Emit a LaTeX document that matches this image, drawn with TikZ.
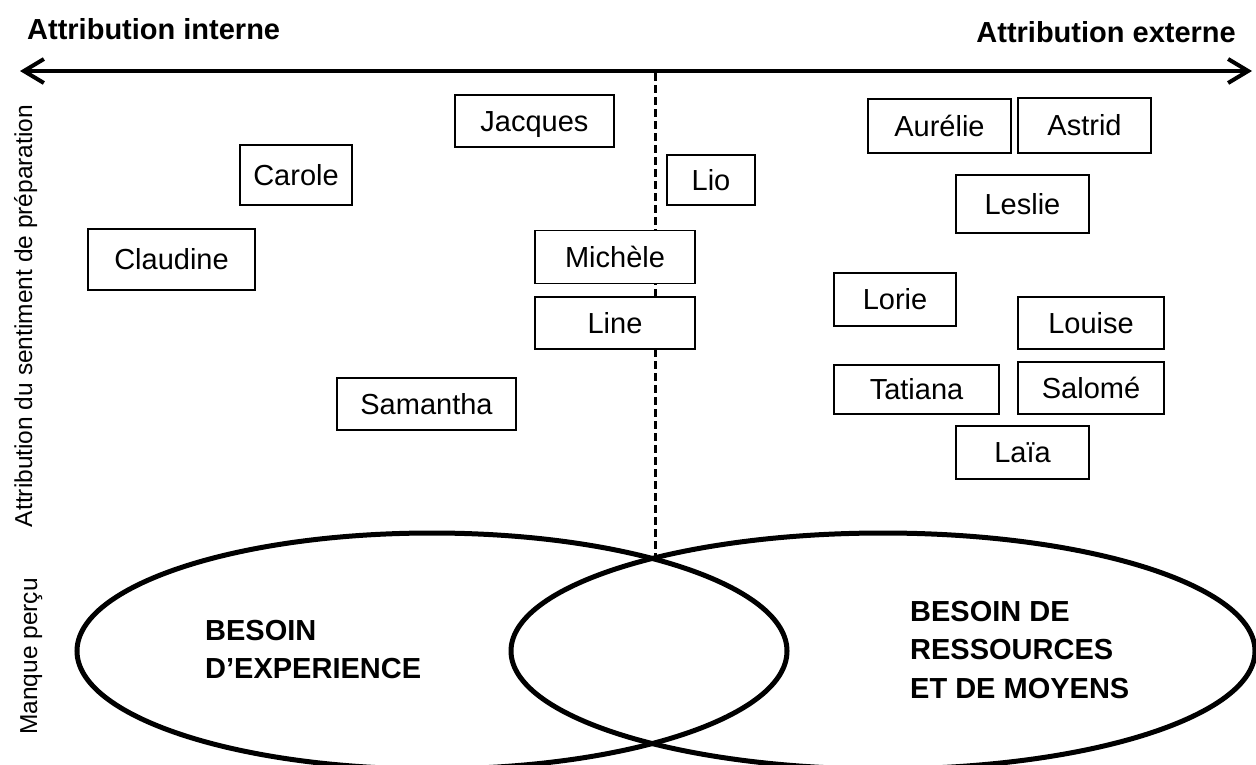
\documentclass[tikz,border=0pt]{standalone}
\usepackage{fontspec}
\setmainfont{Liberation Sans}
\usetikzlibrary{arrows.meta,shapes.geometric}

\newcommand{\nomfont}{\fontsize{29}{34}\selectfont}
\newcommand{\axefont}{\fontsize{24.5}{29}\selectfont}
\newcommand{\titrefont}{\fontsize{29}{38.5}\selectfont\bfseries}

\tikzset{
  nom/.style={rectangle, draw, fill=white, line width=1.3pt, font=\nomfont, inner sep=0pt, text height=20.8pt, text depth=0pt},
  zone/.style={ellipse, draw, line width=5pt, inner sep=0pt},
  besoin/.style={font=\titrefont, align=left, inner sep=0pt, anchor=west},
  axe/.style={font=\axefont, rotate=90, anchor=base, inner sep=0pt}
}

\begin{document}
\begin{tikzpicture}[x=1pt, y=-1pt]
\useasboundingbox (0,0) rectangle (1256,764);

% Axe
\coordinate (gauche) at (20,71);
\coordinate (droite) at (1252,71);
\draw[line width=4pt, {Straight Barb[length=20pt, width=24pt]}-{Straight Barb[length=20pt, width=24pt]}] (gauche) -- (droite);
\node[font=\titrefont, anchor=base west, inner sep=0pt] (interne) at (27,39) {Attribution interne};
\node[font=\titrefont, anchor=base east, inner sep=0pt] (externe) at (1236,42) {Attribution externe};

% Axe vertical
\node[axe] (prep) at (32,316) {Attribution du sentiment de préparation};
\node[axe] (manque) at (37,656.5) {Manque perçu};

% Ellipses
\node[zone, minimum width=710pt, minimum height=236pt] (exp) at (432,651) {};
\node[zone, minimum width=744pt, minimum height=236pt] (res) at (883,651) {};
\node[besoin] (texp) at (205,649.5) {BESOIN\\D’EXPERIENCE};
\node[besoin] (tres) at (910,650) {BESOIN DE\\RESSOURCES\\ET DE MOYENS};

% Separation
\coordinate (haut) at (655,73);
\coordinate (croise) at (655,559);
\draw[line width=3pt, dash pattern=on 8pt off 4pt] (haut) -- (croise);

% Interne
\node[nom, minimum width=159pt, minimum height=52pt] (jacques) at (534.5,121) {Jacques};
\node[nom, minimum width=112pt, minimum height=60pt] (carole) at (296,175) {Carole};
\node[nom, minimum width=167pt, minimum height=61pt] (claudine) at (171.5,259.5) {Claudine};
\node[nom, minimum width=160pt, minimum height=53pt] (michele) at (615,257) {Michèle};
\node[nom, minimum width=160pt, minimum height=52pt] (line) at (615,323) {Line};
\node[nom, minimum width=179pt, minimum height=52pt] (samantha) at (426.5,404) {Samantha};

% Externe
\node[nom, minimum width=88pt, minimum height=50pt] (lio) at (711,180) {Lio};
\node[nom, minimum width=143pt, minimum height=54pt] (aurelie) at (939.5,126) {Aurélie};
\node[nom, minimum width=133pt, minimum height=55pt] (astrid) at (1084.5,125.5) {Astrid};
\node[nom, minimum width=133pt, minimum height=58pt] (leslie) at (1022.5,204) {Leslie};
\node[nom, minimum width=122pt, minimum height=53pt] (lorie) at (895,299.5) {Lorie};
\node[nom, minimum width=146pt, minimum height=52pt] (louise) at (1091,323) {Louise};
\node[nom, minimum width=165pt, minimum height=49pt] (tatiana) at (916.5,389.5) {Tatiana};
\node[nom, minimum width=146pt, minimum height=52pt] (salome) at (1091,388) {Salomé};
\node[nom, minimum width=133pt, minimum height=53pt] (laia) at (1022.5,452.5) {Laïa};
\end{tikzpicture}
\end{document}
